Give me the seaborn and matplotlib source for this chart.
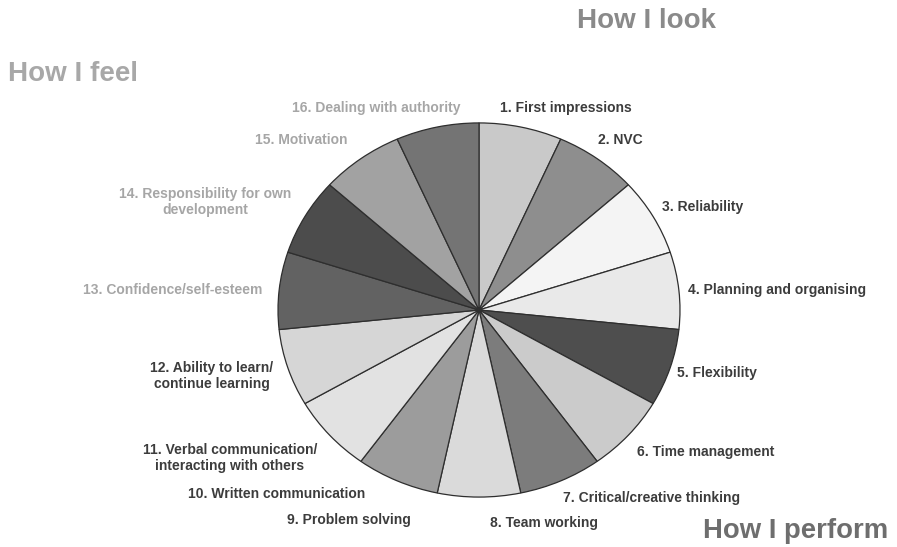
import matplotlib
matplotlib.use("Agg")
import matplotlib.pyplot as plt
import seaborn as sns

# Skill wheel: fifteen equal segments drawn clockwise from 12 o'clock
segment_shares = [1, 1, 1, 1, 1, 1, 1, 1, 1, 1, 1, 1, 1, 1, 1]
segment_grays = ["#c9c9c9", "#8e8e8e", "#f4f4f4", "#e9e9e9", "#4e4e4e",
                 "#cbcbcb", "#7c7c7c", "#dadada", "#9c9c9c", "#e2e2e2",
                 "#d6d6d6", "#626262", "#4c4c4c", "#a2a2a2", "#747474"]

skill_labels = [
    "1. First impressions", "2. NVC", "3. Reliability",
    "4. Planning and organising", "5. Flexibility", "6. Time management",
    "7. Critical/creative thinking", "8. Team working", "9. Problem solving",
    "10. Written communication",
    "11. Verbal communication/\ninteracting with others",
    "12. Ability to learn/\ncontinue learning",
    "13. Confidence/self-esteem",
    "14. Responsibility for own\ndevelopment",
    "15. Motivation", "16. Dealing with authority",
]
group_titles = ["How I look", "How I feel", "How I perform"]

sns.set_theme(style="white")
plt.rcParams["font.family"] = ["Liberation Sans", "DejaVu Sans"]

W, H = 897, 547
fig = plt.figure(figsize=(W / 100, H / 100), dpi=100)
fig.patch.set_facecolor("white")

# Pie axes: slightly wider than tall, as in the printed wheel
cx, cy, rx, ry = 479, 310, 202, 188
ax = fig.add_axes([(cx - rx) / W, 1 - (cy + ry) / H, 2 * rx / W, 2 * ry / H])
ax.pie(segment_shares, colors=segment_grays, startangle=90, counterclock=False,
       radius=1.0,
       wedgeprops=dict(edgecolor="#2e2e2e", linewidth=0.9))
ax.set_aspect("auto")
ax.set_xlim(-1.005, 1.005)
ax.set_ylim(-1.005, 1.005)
ax.axis("off")

# Overlay in pixel coordinates for labels
tx = fig.add_axes([0, 0, 1, 1], facecolor="none")
tx.set_xlim(0, W)
tx.set_ylim(H, 0)
tx.axis("off")

dark = "#3c3c3c"
light = "#a6a6a6"
label_spots = [
    (500, 108, "left"), (598, 140, "left"), (662, 207, "left"),
    (688, 290, "left"), (677, 373, "left"), (637, 452, "left"),
    (563, 498, "left"), (490, 523, "left"), (287, 520, "left"),
    (188, 494, "left"), (230, 458, "center"), (212, 376, "center"),
    (83, 290, "left"), (205, 202, "center"), (255, 140, "left"),
    (292, 108, "left"),
]
for i, (label, (x, y, ha)) in enumerate(zip(skill_labels, label_spots)):
    tx.text(x, y, label, ha=ha, va="center", fontsize=10, fontweight="bold",
            color=dark if i < 12 else light, linespacing=1.25,
            multialignment="center")

tx.text(577, 21, group_titles[0], ha="left", va="center", fontsize=20,
        fontweight="bold", color="#8a8a8a")
tx.text(8, 74, group_titles[1], ha="left", va="center", fontsize=20,
        fontweight="bold", color="#a8a8a8")
tx.text(703, 531, group_titles[2], ha="left", va="center", fontsize=19.8,
        fontweight="bold", color="#6e6e6e")

fig.savefig("out.png", dpi=100, facecolor="white")
